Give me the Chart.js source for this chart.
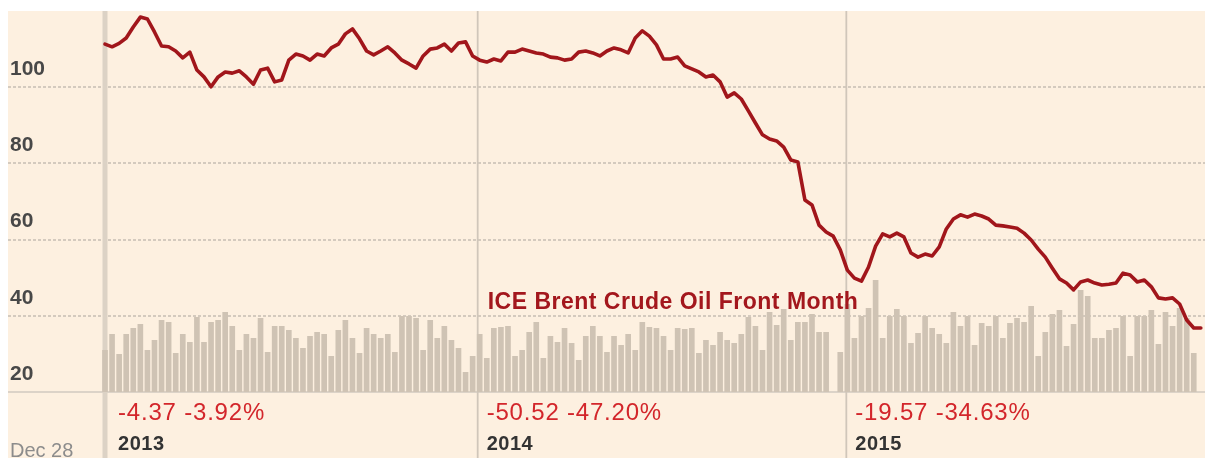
<!DOCTYPE html>
<html>
<head>
<meta charset="utf-8">
<script src="https://cdn.jsdelivr.net/npm/chart.js@4.4.1/dist/chart.umd.min.js"></script>
<style>
html,body{margin:0;padding:0;background:#fff;}
#wrap{width:1205px;height:458px;position:relative;}
</style>
</head>
<body>
<div id="wrap"><canvas id="c" width="1205" height="458"></canvas></div>
<script>
// ---- data (weekly, starting Dec 28 2012) ----
const startDate = '2012-12-28';
const startLabel = 'Dec 28';
const seriesName = 'ICE Brent Crude Oil Front Month';

const price = [
  111.3,110.6,111.5,112.9,115.8,118.4,117.9,114.5,110.8,110.6,
  109.5,107.7,109.2,104.5,102.7,100.1,102.7,104.0,103.7,104.3,
  102.7,100.8,104.5,105.0,101.4,101.9,107.1,108.7,108.2,107.1,
  108.7,108.2,110.3,111.3,114.0,115.3,112.7,109.5,108.5,109.5,
  110.6,109.0,107.1,106.1,105.0,108.2,110.0,110.3,111.3,109.5,
  111.6,111.9,108.2,107.1,106.6,107.4,106.9,109.2,109.2,110.0,
  109.5,109.0,108.7,107.9,107.7,107.1,107.4,109.2,109.5,109.0,
  108.2,109.5,110.3,109.8,109.0,112.9,114.8,113.4,111.1,107.4,
  107.4,107.9,105.6,104.8,104.0,102.7,103.2,101.4,97.4,98.5,
  96.9,93.8,90.6,87.5,86.4,85.9,84.3,80.9,80.4,70.4,
  69.1,63.8,62.0,60.9,57.3,52.0,49.9,49.1,52.8,58.3,
  61.5,60.7,61.7,60.7,56.5,55.4,56.2,55.7,58.1,62.8,
  65.4,66.5,65.9,66.7,66.2,65.4,63.8,63.6,63.3,63.0,
  61.7,59.9,57.5,55.4,52.5,49.7,48.6,46.8,48.9,49.4,
  48.6,48.1,48.3,48.6,51.2,50.7,48.9,49.4,47.6,44.7,
  44.4,44.7,43.1,38.9,36.8,36.8
];

// weekly volume (approximate, thousand lots)
const volume = [
  21,29,19,29,32,34,21,26,36,35,19.5,29,25,37.5,25,35,36,40,33,21,29,27,37,20,33,33,
  31,27,22,28,30,29,18,31,36,27,19.5,32,29,27,29,20,38,38,37,21,36,27,33,26,22,10,
  18,29,17,32,32.5,33,18,21,30,35,17,28,25,32,24.5,16,28,33,28,20,28,23.5,29,21,35,32.5,
  32,28,21,32,31.5,32,19.5,26,23.5,30,26,24.5,29,37.5,33,21,40,33.5,41.5,26,35,35,39,30,30,0,
  20,44,27,38,42,56,27,38,41.5,38,24.5,29.5,38,32,29,24.5,40,33,38,23.5,34.5,33,38,27,34.5,37,
  35,43,18,30,39,41,23,34,51,48,27,27,31,32,38,18,38,38,41,24,40,33,42,37,19.5,0
];

const yTicks = [20, 40, 60, 80, 100];
const years = ['2013', '2014', '2015'];
const yearChanges = ['-4.37 -3.92%', '-50.52 -47.20%', '-19.57 -34.63%'];

// ---- helpers ----
const DAY = 86400000;
const weeksFrom = d => (Date.parse(d) - Date.parse(startDate)) / (7 * DAY);
const yearWeeks = years.map(y => weeksFrom(y + '-01-01'));
const FONT = '"Liberation Sans", Arial, Helvetica, sans-serif';

const decor = {
  id: 'decor',
  beforeDraw(chart) {
    const {ctx, chartArea: a} = chart;
    ctx.save();
    ctx.fillStyle = '#ffffff';
    ctx.fillRect(0, 0, chart.width, chart.height);
    ctx.fillStyle = '#fdf0e0';
    ctx.fillRect(a.left, a.top, a.right - a.left, chart.height - a.top);
    ctx.restore();
  },
  beforeDatasetsDraw(chart) {
    const {ctx, chartArea: a, scales: {x, y}} = chart;
    ctx.save();
    yTicks.forEach(v => {
      const py = Math.round(y.getPixelForValue(v));
      ctx.beginPath();
      if (v === y.min) {
        ctx.setLineDash([]);
        ctx.strokeStyle = '#dcd3c8';
        ctx.lineWidth = 2;
      } else {
        ctx.setLineDash([3, 2]);
        ctx.strokeStyle = '#c6bdb2';
        ctx.lineWidth = 1.7;
      }
      ctx.moveTo(a.left, py);
      ctx.lineTo(a.right, py);
      ctx.stroke();
    });
    ctx.setLineDash([]);
    // start-of-data line
    const p0 = x.getPixelForValue(0);
    ctx.strokeStyle = '#dcd2c5';
    ctx.lineWidth = 5;
    ctx.beginPath(); ctx.moveTo(p0, a.top); ctx.lineTo(p0, chart.height); ctx.stroke();
    // year boundaries
    ctx.strokeStyle = '#d0c6ba';
    ctx.lineWidth = 1.8;
    yearWeeks.forEach(w => {
      if (w <= 1) return;
      const px = x.getPixelForValue(w);
      ctx.beginPath(); ctx.moveTo(px, a.top); ctx.lineTo(px, chart.height); ctx.stroke();
    });
    ctx.restore();
  },
  afterDatasetsDraw(chart) {
    const {ctx, chartArea: a, scales: {x}} = chart;
    ctx.save();
    ctx.font = 'bold 23px ' + FONT;
    ctx.fillStyle = '#a3171d';
    ctx.textBaseline = 'alphabetic';
    ctx.textAlign = 'left';
    ctx.letterSpacing = '0.5px';
    ctx.fillText(seriesName, x.getPixelForValue(yearWeeks[1]) + 10, a.bottom - 83);
    ctx.restore();
  },
  afterDraw(chart) {
    const {ctx, chartArea: a, scales: {x}} = chart;
    ctx.save();
    ctx.textAlign = 'left';
    ctx.textBaseline = 'alphabetic';
    years.forEach((yr, i) => {
      const px = x.getPixelForValue(yearWeeks[i]) + 9;
      ctx.font = '24px ' + FONT;
      ctx.letterSpacing = '0.8px';
      ctx.fillStyle = '#d3262b';
      ctx.fillText(yearChanges[i], px, a.bottom + 28);
      ctx.font = 'bold 20px ' + FONT;
      ctx.letterSpacing = '0.5px';
      ctx.fillStyle = '#333333';
      ctx.fillText(yr, px, a.bottom + 58);
    });
    ctx.font = '20px ' + FONT;
    ctx.letterSpacing = '0px';
    ctx.fillStyle = '#8c8c8c';
    ctx.fillText(startLabel, a.left + 2, a.bottom + 65);
    ctx.restore();
  }
};

new Chart(document.getElementById('c').getContext('2d'), {
  type: 'bar',
  data: {
    datasets: [
      {
        type: 'line',
        label: seriesName,
        data: price.map((v, i) => ({x: i, y: v})),
        borderColor: '#a1161b',
        borderWidth: 3.6,
        pointRadius: 0,
        tension: 0,
        borderJoinStyle: 'round',
        borderCapStyle: 'round',
        yAxisID: 'y',
        order: 0
      },
      {
        type: 'bar',
        label: 'Volume',
        data: volume.map((v, i) => ({x: i, y: v})),
        backgroundColor: '#cfc3b4',
        barPercentage: 0.8,
        categoryPercentage: 1,
        yAxisID: 'y2',
        order: 1
      }
    ]
  },
  options: {
    responsive: false,
    animation: false,
    devicePixelRatio: 1,
    layout: {padding: {left: 8, top: 11, right: 0, bottom: 66}},
    plugins: {legend: {display: false}, tooltip: {enabled: false}},
    scales: {
      x: {type: 'linear', min: -13.72, max: 155.59, display: false, offset: false},
      y: {
        position: 'left',
        min: 20, max: 120,
        grid: {display: false, drawTicks: false},
        border: {display: false},
        afterBuildTicks: s => { s.ticks = yTicks.map(v => ({value: v})); },
        afterFit: s => {
          s.width = 0;
          s.paddingTop = 0; s.paddingBottom = 0; s.paddingLeft = 0; s.paddingRight = 0;
        },
        ticks: {
          mirror: true,
          padding: 2,
          labelOffset: -18,
          color: '#484848',
          font: {family: FONT, size: 21, weight: 'bold'}
        }
      },
      y2: {min: 0, max: 190.5, display: false}
    }
  },
  plugins: [decor]
});
</script>
</body>
</html>
